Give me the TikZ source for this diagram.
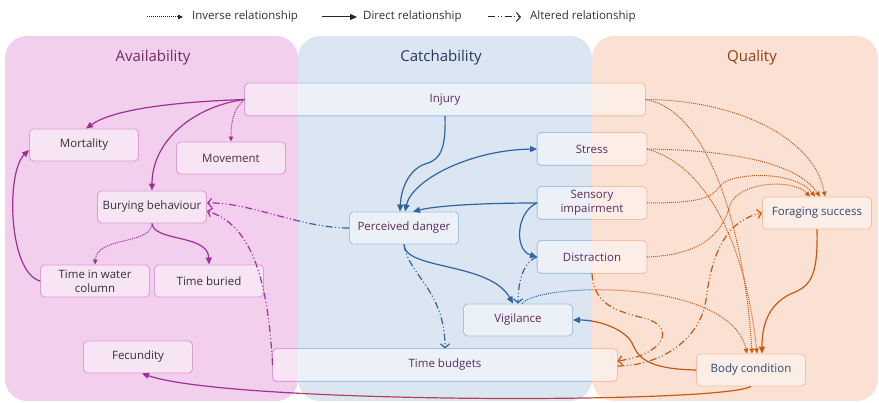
\documentclass[tikz,border=0pt]{standalone}
\usepackage{fontspec}
\setmainfont{Open Sans}
\usetikzlibrary{arrows.meta}

\definecolor{availbg}{HTML}{F2CFEC}
\definecolor{catchbg}{HTML}{DBE6F2}
\definecolor{qualbg}{HTML}{FBE1D4}
\definecolor{availline}{HTML}{DC9FD4}
\definecolor{catchline}{HTML}{A4C4E4}
\definecolor{qualline}{HTML}{F5BFA2}
\definecolor{purp}{HTML}{A12F98}
\definecolor{blu}{HTML}{2E64A0}
\definecolor{orng}{HTML}{C55A11}
\definecolor{availhd}{HTML}{6E2D66}
\definecolor{catchhd}{HTML}{24395A}
\definecolor{qualhd}{HTML}{8F3F14}
\definecolor{darktext}{HTML}{333333}
\definecolor{movetext}{HTML}{4A3048}
\definecolor{plumtext}{HTML}{5E2B5D}
\definecolor{slatetext}{HTML}{2E4A6C}

\tikzset{
  box/.style={rounded corners=4pt, minimum width=109pt, minimum height=32pt, inner sep=1pt,
    fill=white, fill opacity=0.45, text opacity=1, line width=0.9pt, align=center,
    font=\fontsize{11.5}{14}\selectfont},
  availbox/.style={box, draw=availline, text=darktext},
  catchbox/.style={box, draw=catchline, text=plumtext},
  qualbox/.style={box, draw=qualline, text=slatetext},
  splitbox/.style={box, text=plumtext},
  head/.style={font=\fontsize{15}{18}\selectfont},
  legend/.style={font=\fontsize{11.5}{14}\selectfont, text=darktext, anchor=west, inner sep=0pt},
  direct/.style={line width=1.2pt, -{Triangle[length=7pt,width=6pt]}},
  inverse/.style={line width=1pt, dash pattern=on 1pt off 1pt, -{Triangle[length=5pt,width=4.5pt]}},
  altered/.style={line width=1.2pt, dash pattern=on 7pt off 2.5pt on 1pt off 2.5pt on 1pt off 2.5pt,
    -{Straight Barb[length=4pt,width=9pt]}},
}

\begin{document}
\begin{tikzpicture}[x=1pt,y=-1pt]
  \useasboundingbox (0,0) rectangle (879,403);

  % panels
  \fill[availbg, rounded corners=22pt] (5,36) rectangle (298,401);
  \fill[catchbg, rounded corners=22pt] (298,36) rectangle (592,401);
  \fill[qualbg, rounded corners=22pt] (592,36) rectangle (878,401);
  \node[head, text=availhd] (availhead) at (153,58) {Availability};
  \node[head, text=catchhd] (catchhead) at (441,58) {Catchability};
  \node[head, text=qualhd] (qualhead) at (752,58) {Quality};

  % legend
  \coordinate (invA) at (147,17); \coordinate (invB) at (183,17);
  \draw[inverse, black!85] (invA) -- (invB);
  \node[legend] (invtext) at (192,17) {Inverse relationship};
  \coordinate (dirA) at (322,17); \coordinate (dirB) at (357,17);
  \draw[direct, black!85, line width=1pt] (dirA) -- (dirB);
  \node[legend] (dirtext) at (363,17) {Direct relationship};
  \coordinate (altA) at (488,17); \coordinate (altB) at (521,17);
  \draw[altered, black!85, line width=1pt] (altA) -- (altB);
  \node[legend] (alttext) at (530,17) {Altered relationship};

  % boxes
  \node[availbox] (mortality) at (84,145) {Mortality};
  \node[availbox, text=movetext] (movement) at (231,158) {Movement};
  \node[availbox] (burying) at (152,207) {Burying behaviour};
  \node[availbox] (water) at (95,281) {Time in water\\column};
  \node[availbox] (buried) at (209,281) {Time buried};
  \node[availbox] (fecundity) at (138,357) {Fecundity};
  \node[splitbox, minimum width=400pt] (injury) at (445,99.5) {Injury};
  \node[splitbox, minimum width=344pt] (budgets) at (445,365) {Time budgets};
  \node[splitbox] (stress) at (592,149) {Stress};
  \node[splitbox] (sensory) at (592,203) {Sensory\\impairment};
  \node[splitbox] (distraction) at (592,257) {Distraction};
  \node[catchbox] (perceived) at (404,228) {Perceived danger};
  \node[catchbox] (vigilance) at (518,320) {Vigilance};
  \node[qualbox] (foraging) at (817,213) {Foraging success};
  \node[qualbox] (body) at (751,370) {Body condition};

  % borders of the boxes that cross two or three panels
  \foreach \xa/\xb/\bc in {0/298/availline, 298/592/catchline, 592/879/qualline} {
    \begin{scope}
      \clip (\xa,0) rectangle (\xb,403);
      \foreach \n in {injury,budgets,stress,sensory,distraction}
        \draw[\bc, line width=0.9pt, rounded corners=4pt] (\n.south west) rectangle (\n.north east);
    \end{scope}
  }

  % availability
  \draw[direct, purp] (injury.west) .. controls (170,102) and (112,110) .. ([xshift=2pt]mortality.north);
  \draw[direct, purp] (injury.west) .. controls (195,106) and (152,140) .. (burying.north);
  \draw[inverse, purp] (injury.west) .. controls (232,110) and (231,125) .. (movement.north);
  \draw[direct, purp] (water.west) .. controls (8,272) and (6,172) .. ([yshift=-5pt]mortality.west);
  \draw[inverse, purp] (burying.south) .. controls (152,245) and (97,236) .. (water.north);
  \draw[direct, purp] (burying.south) .. controls (154,242) and (208,234) .. (buried.north);
  \draw[altered, purp] (budgets.west) .. controls (268,280) and (252,225) .. ([yshift=-4pt]burying.east);

  % catchability
  \draw[direct, blu] (injury.south) .. controls (446,150) and (440,160) .. (425,164)
    .. controls (408,170) and (401,190) .. ([xshift=-4pt]perceived.north);
  \draw[direct, blu, {Triangle[length=7pt,width=6pt]}-{Triangle[length=7pt,width=6pt]}]
    ([xshift=1pt]perceived.north) .. controls (412,180) and (470,150) .. (stress.west);
  \draw[direct, blu] (sensory.west) .. controls (490,203) and (440,205) .. ([xshift=9pt]perceived.north);
  \draw[direct, blu] (sensory.west) .. controls (516,212) and (514,250) .. (distraction.west);
  \draw[direct, blu] (perceived.south) .. controls (404,270) and (490,262) .. ([xshift=-5pt]vigilance.north);
  \draw[altered, blu] (perceived.south) .. controls (408,275) and (445,290) .. (budgets.north);
  \draw[altered, blu] (distraction.west) .. controls (522,262) and (518,285) .. (vigilance.north);

  % quality
  \draw[direct, orng] (foraging.south) .. controls (818,272) and (812,285) .. (795,292)
    .. controls (770,302) and (762,322) .. ([xshift=11pt]body.north);
  \draw[inverse, orng] (injury.east) .. controls (740,100) and (815,140) .. ([xshift=8pt]foraging.north);
  \draw[inverse, orng] (injury.east) .. controls (710,110) and (745,235) .. ([xshift=1pt]body.north);
  \draw[inverse, orng] (stress.east) .. controls (720,150) and (795,160) .. ([xshift=3pt]foraging.north);
  \draw[inverse, orng] (stress.east) .. controls (705,165) and (745,240) .. ([xshift=6pt]body.north);
  \draw[inverse, orng] (sensory.east) .. controls (700,203) and (712,198) .. (720,186)
    .. controls (730,172) and (795,170) .. ([xshift=-2pt]foraging.north);
  \draw[inverse, orng] (distraction.east) .. controls (700,255) and (722,235) .. (730,205)
    .. controls (738,182) and (792,178) .. ([xshift=-7pt]foraging.north);
  \draw[altered, orng] (distraction.south) .. controls (594,310) and (625,312) .. (650,320)
    .. controls (675,330) and (662,355) .. ([yshift=4pt]budgets.east);
  \draw[altered, orng] ([yshift=-1pt]budgets.east) .. controls (660,366) and (700,340) .. (706,300)
    .. controls (712,250) and (728,220) .. (foraging.west);

  % connectors that change colour from panel to panel
  \foreach \xa/\xb/\ec/\ed in {0/298/purp/purp, 298/592/blu/purp!50!orng, 592/879/orng/orng} {
    \begin{scope}
      \clip (\xa,0) rectangle (\xb,403);
      \draw[altered, color=\ec] (perceived.west) .. controls (300,228) and (250,202) .. ([yshift=4pt]burying.east);
      \draw[inverse, color=\ec] ([xshift=4pt]vigilance.north) .. controls (540,282) and (730,278) .. ([xshift=-4pt]body.north);
      \draw[direct, color=\ec] (body.west) .. controls (645,369) and (638,356) .. (633,345)
        .. controls (627,330) and (600,320) .. (vigilance.east);
      \draw[direct, color=\ed] (body.south) .. controls (720,404) and (230,404) .. ([xshift=4pt]fecundity.south);
    \end{scope}
  }
\end{tikzpicture}
\end{document}
